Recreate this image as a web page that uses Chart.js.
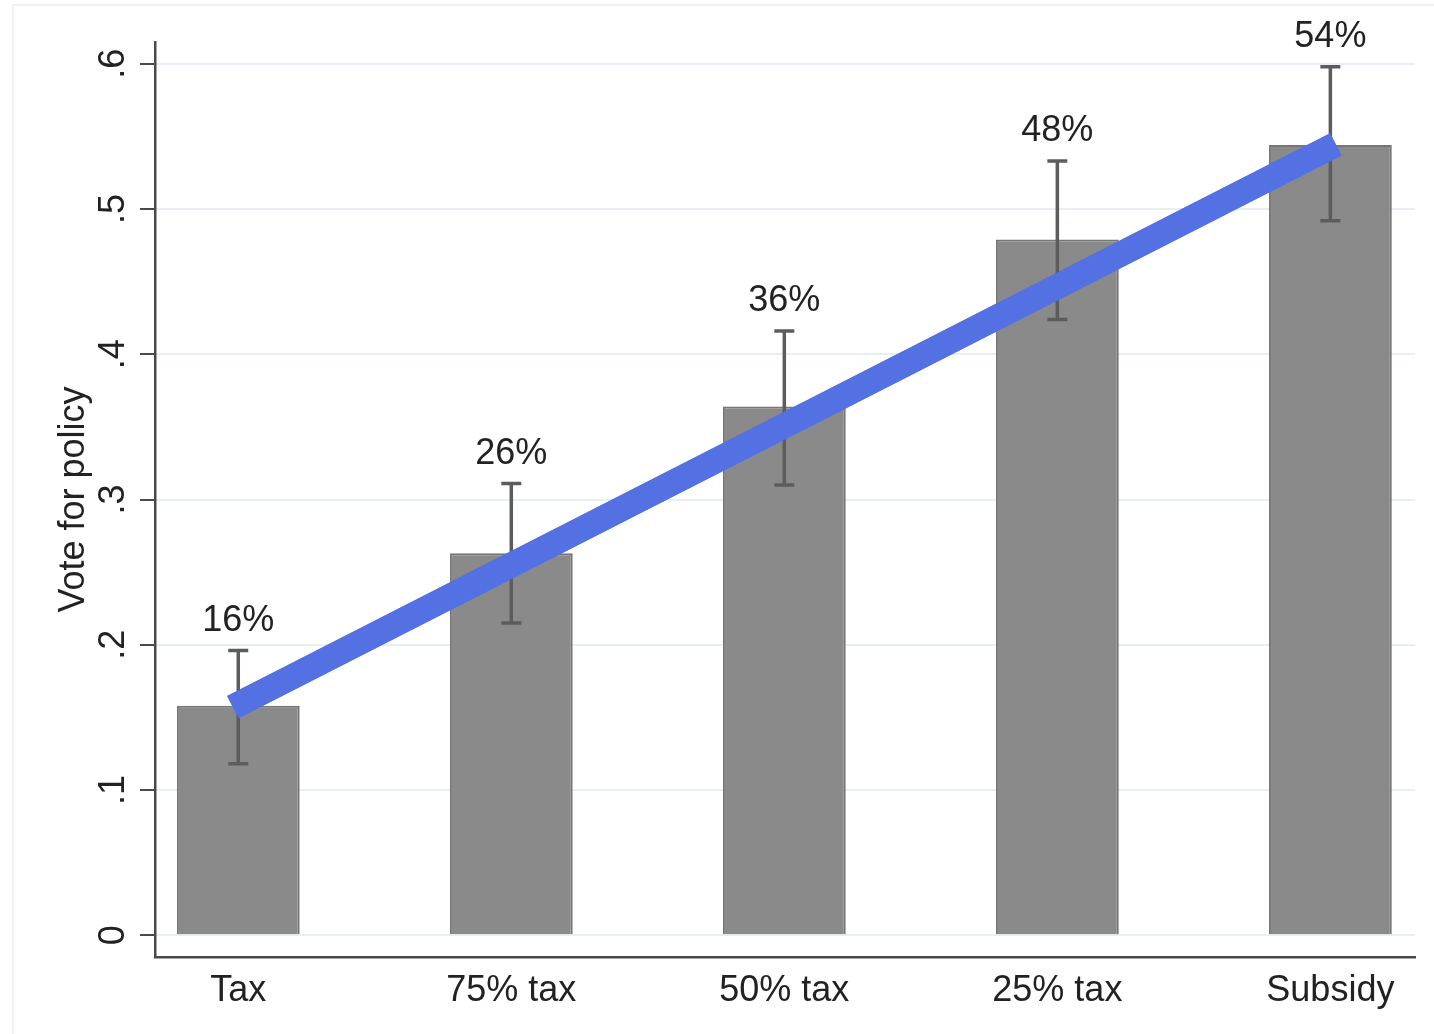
<!DOCTYPE html>
<html>
<head>
<meta charset="utf-8">
<style>
  html, body { margin: 0; padding: 0; background: #fff; }
  #wrap { width: 1434px; height: 1034px; position: relative; }
</style>
</head>
<body>
<div id="wrap"><canvas id="vote"></canvas></div>
<script src="https://cdn.jsdelivr.net/npm/chart.js@4.4.1/dist/chart.umd.min.js"></script>
<script>
var categories = ['Tax', '75% tax', '50% tax', '25% tax', 'Subsidy'];
var voteShare = [0.158, 0.263, 0.364, 0.479, 0.544];
var ciLow = [0.118, 0.215, 0.310, 0.424, 0.492];
var ciHigh = [0.196, 0.311, 0.416, 0.533, 0.598];
var trendX = [-0.02, 4.02];
var trendY = [0.157, 0.5445];
var yTicks = [0, 0.1, 0.2, 0.3, 0.4, 0.5, 0.6];
var yTickLabels = ['0', '.1', '.2', '.3', '.4', '.5', '.6'];

var FONT = '"Liberation Sans", Arial, sans-serif';

// error bars, percent labels, rotated y labels and the faint frame
var extras = {
  id: 'extras',
  beforeDraw: function (chart) {
    var c = chart.ctx;
    c.save();
    c.strokeStyle = '#edf2f2';
    c.lineWidth = 2;
    c.beginPath();
    c.moveTo(13, 1034);
    c.lineTo(13, 5);
    c.lineTo(1434, 5);
    c.stroke();
    c.restore();
  },
  afterDatasetsDraw: function (chart) {
    var c = chart.ctx, x = chart.scales.x, y = chart.scales.y;
    c.save();
    c.strokeStyle = '#5c5c5c';
    c.lineWidth = 3.5;
    for (var i = 0; i < categories.length; i++) {
      var px = x.getPixelForValue(i);
      var top = y.getPixelForValue(ciHigh[i]), bot = y.getPixelForValue(ciLow[i]);
      c.beginPath();
      c.moveTo(px, top); c.lineTo(px, bot);
      c.moveTo(px - 10, top); c.lineTo(px + 10, top);
      c.moveTo(px - 10, bot); c.lineTo(px + 10, bot);
      c.stroke();
    }
    // trend line on top of the error bars
    var meta = chart.getDatasetMeta(1);
    meta.controller.draw();

    c.fillStyle = '#222';
    c.font = '36px ' + FONT;
    c.textAlign = 'center';
    c.textBaseline = 'alphabetic';
    for (var j = 0; j < categories.length; j++) {
      c.fillText(Math.round(voteShare[j] * 100) + '%', x.getPixelForValue(j), y.getPixelForValue(ciHigh[j]) - 20);
    }

    // rotated y tick labels and title
    for (var k = 0; k < yTicks.length; k++) {
      c.save();
      c.translate(124, y.getPixelForValue(yTicks[k]));
      c.rotate(-Math.PI / 2);
      c.fillText(yTickLabels[k], 0, 0);
      c.restore();
    }
    c.save();
    c.translate(84, (chart.chartArea.top + chart.chartArea.bottom) / 2);
    c.rotate(-Math.PI / 2);
    c.fillText('Vote for policy', 0, 0);
    c.restore();
    c.restore();
  }
};

var ctx = document.getElementById('vote').getContext('2d');
var chart = new Chart(ctx, {
  type: 'bar',
  data: {
    datasets: [{
      type: 'bar',
      data: categories.map(function (c, i) { return { x: i, y: voteShare[i] }; }),
      backgroundColor: '#8a8a8a',
      borderColor: '#767676',
      borderWidth: 2,
      barPercentage: 0.45,
      categoryPercentage: 1,
      order: 2
    }, {
      type: 'line',
      data: trendX.map(function (v, i) { return { x: v, y: trendY[i] }; }),
      borderColor: '#5471e3',
      borderWidth: 25,
      borderCapStyle: 'butt',
      pointRadius: 0,
      fill: false,
      order: 1
    }]
  },
  options: {
    responsive: true,
    maintainAspectRatio: false,
    animation: false,
    layout: { padding: { top: 42, right: 19, left: 0, bottom: 0 } },
    plugins: { legend: { display: false }, tooltip: { enabled: false } },
    scales: {
      x: {
        type: 'linear',
        offset: false,
        min: -0.305,
        max: 4.31,
        afterBuildTicks: function (s) { s.ticks = categories.map(function (c, i) { return { value: i }; }); },
        afterFit: function (s) { s.height = 77; },
        grid: { display: false, drawTicks: false },
        border: { color: '#4a4a4a', width: 2.5 },
        ticks: {
          padding: 12,
          color: '#222',
          font: { family: FONT, size: 36 },
          callback: function (v) { return categories[v]; }
        }
      },
      y: {
        min: -0.015,
        max: 0.615,
        afterBuildTicks: function (s) { s.ticks = yTicks.map(function (v) { return { value: v }; }); },
        afterFit: function (s) { s.width = 155; },
        grid: { color: '#e8eff2', lineWidth: 2, tickColor: '#4a4a4a', tickLength: 15, tickWidth: 2 },
        border: { color: '#4a4a4a', width: 2.5 },
        ticks: { display: false }
      }
    }
  },
  plugins: [extras]
});
</script>
</body>
</html>
